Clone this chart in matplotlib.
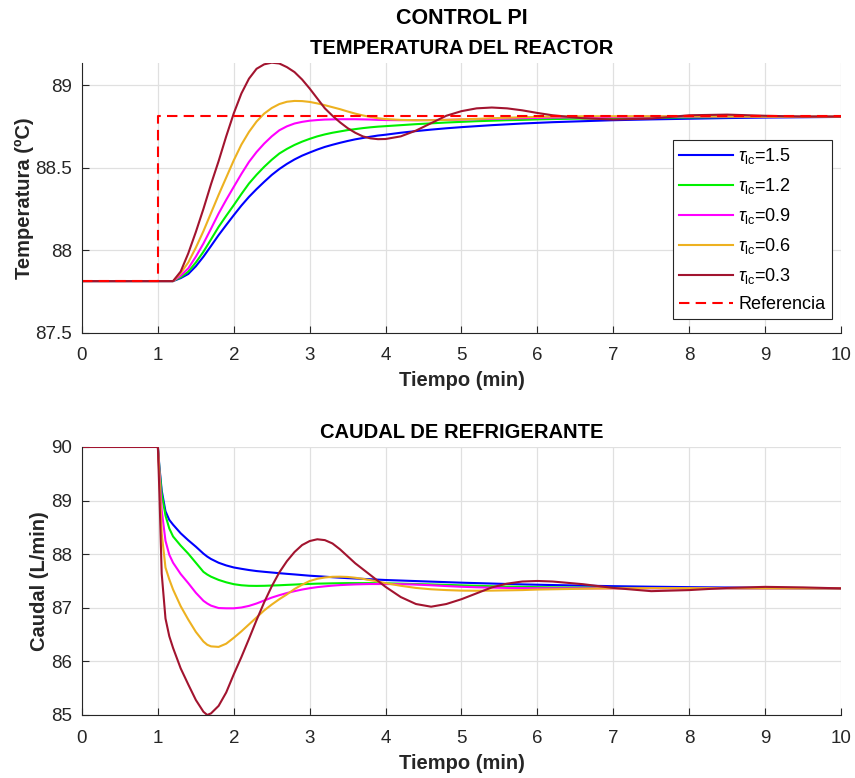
import numpy as np
import matplotlib
matplotlib.use("Agg")
import matplotlib.pyplot as plt

plt.rcParams['font.family'] = ['Liberation Sans', 'DejaVu Sans']
plt.rcParams['mathtext.fontset'] = 'custom'
plt.rcParams['mathtext.rm'] = 'Liberation Sans'
plt.rcParams['mathtext.it'] = 'Liberation Sans:italic'

# valores
tau_labels = ['1.5', '1.2', '0.9', '0.6', '0.3']
colores = ['#0000ff', '#00f000', '#ff00ff', '#edb120', '#a2142f']

# ---- temperatura del reactor ----
t_temp = [0, 1.2, 1.3, 1.4, 1.5, 1.6, 1.7, 1.8, 1.9, 2.0, 2.1, 2.2, 2.3, 2.4, 2.5,
          2.6, 2.7, 2.8, 2.9, 3.0, 3.1, 3.2, 3.3, 3.4, 3.5, 3.6, 3.7, 3.8, 3.9, 4.0,
          4.2, 4.4, 4.6, 4.8, 5.0, 5.2, 5.4, 5.6, 5.8, 6.0, 6.2,
          6.6, 7.0, 7.5, 8.0, 8.5, 9.0, 9.5, 10]

T_15 = [87.812, 87.812, 87.83, 87.855, 87.902, 87.96, 88.025, 88.091, 88.152, 88.212, 88.27,
        88.323, 88.37, 88.414, 88.456, 88.492, 88.523, 88.55, 88.573, 88.592, 88.61, 88.626,
        88.639, 88.651, 88.662, 88.672, 88.68, 88.688, 88.695, 88.70,
        88.712, 88.722, 88.731, 88.739, 88.746, 88.752, 88.758, 88.763, 88.768, 88.772, 88.776,
        88.782, 88.788, 88.793, 88.797, 88.801, 88.804, 88.806, 88.808]
T_12 = [87.812, 87.812, 87.835, 87.869, 87.925, 87.99, 88.065, 88.141, 88.208, 88.273, 88.34,
        88.404, 88.457, 88.505, 88.548, 88.586, 88.614, 88.638, 88.658, 88.675, 88.69, 88.702,
        88.712, 88.72, 88.728, 88.734, 88.74, 88.745, 88.749, 88.752,
        88.758, 88.764, 88.769, 88.774, 88.778, 88.782, 88.785, 88.788, 88.79, 88.793, 88.795,
        88.798, 88.80, 88.803, 88.805, 88.807, 88.808, 88.809, 88.81]
T_09 = [87.812, 87.812, 87.845, 87.889, 87.96, 88.04, 88.13, 88.222, 88.305, 88.384, 88.462,
        88.535, 88.595, 88.646, 88.69, 88.727, 88.751, 88.768, 88.778, 88.785, 88.789, 88.792,
        88.793, 88.794, 88.794, 88.794, 88.793, 88.792, 88.79, 88.789,
        88.788, 88.788, 88.789, 88.79, 88.792, 88.794, 88.796, 88.798, 88.80, 88.802, 88.804,
        88.806, 88.808, 88.81, 88.81, 88.81, 88.81, 88.81, 88.81]
T_06 = [87.812, 87.812, 87.86, 87.925, 88.015, 88.115, 88.225, 88.335, 88.44, 88.545, 88.64,
        88.717, 88.78, 88.828, 88.862, 88.886, 88.90, 88.905, 88.904, 88.899, 88.89, 88.879,
        88.867, 88.855, 88.841, 88.828, 88.817, 88.808, 88.80, 88.795,
        88.79, 88.788, 88.788, 88.79, 88.793, 88.796, 88.80, 88.803, 88.806, 88.808, 88.81,
        88.812, 88.812, 88.812, 88.812, 88.811, 88.81, 88.81, 88.81]
T_03 = [87.812, 87.812, 87.87, 87.98, 88.11, 88.25, 88.40, 88.54, 88.69, 88.83, 88.95,
        89.04, 89.10, 89.127, 89.137, 89.132, 89.11, 89.08, 89.035, 88.98, 88.92, 88.86,
        88.815, 88.775, 88.74, 88.712, 88.69, 88.678, 88.673, 88.674,
        88.69, 88.725, 88.77, 88.815, 88.843, 88.86, 88.865, 88.86, 88.848, 88.832, 88.818,
        88.80, 88.792, 88.798, 88.818, 88.822, 88.815, 88.81, 88.81]

t_ref = [0, 1, 1, 10]
T_ref = [87.812, 87.812, 88.812, 88.812]

# ---- caudal de refrigerante ----
t_caudal = [0, 1.0, 1.02, 1.05, 1.1, 1.15,
            1.2, 1.3, 1.4, 1.5, 1.6, 1.65, 1.7, 1.8, 1.9, 2.0, 2.1, 2.2, 2.3, 2.4, 2.5,
            2.6, 2.7, 2.8, 2.9, 3.0, 3.1, 3.2, 3.3, 3.4, 3.5, 3.6, 3.7, 3.8, 3.9, 4.0,
            4.2, 4.4, 4.6, 4.8, 5.0, 5.2, 5.4, 5.6, 5.8, 6.0, 6.2,
            6.6, 7.0, 7.5, 8.0, 8.5, 9.0, 9.5, 10]

F_15 = [90.0, 90.0, 89.63, 89.19, 88.80, 88.64,
        88.55, 88.39, 88.26, 88.14, 88.01, 87.955, 87.91, 87.84, 87.79, 87.752, 87.727,
        87.704, 87.685, 87.671, 87.658, 87.645, 87.633, 87.622, 87.61, 87.598, 87.589,
        87.58, 87.57, 87.561, 87.553, 87.546, 87.539, 87.532, 87.525, 87.518,
        87.508, 87.498, 87.488, 87.478, 87.468, 87.46, 87.452, 87.444, 87.436, 87.43, 87.424,
        87.413, 87.403, 87.393, 87.385, 87.378, 87.372, 87.367, 87.363]
F_12 = [90.0, 90.0, 89.60, 89.13, 88.72, 88.48,
        88.33, 88.16, 88.01, 87.84, 87.67, 87.62, 87.58, 87.52, 87.475, 87.44, 87.42,
        87.41, 87.408, 87.41, 87.415, 87.42, 87.427, 87.433, 87.44, 87.445, 87.45,
        87.453, 87.456, 87.458, 87.46, 87.46, 87.46, 87.46, 87.458, 87.456,
        87.45, 87.443, 87.435, 87.427, 87.418, 87.41, 87.402, 87.395, 87.39, 87.385, 87.381,
        87.375, 87.371, 87.368, 87.366, 87.365, 87.364, 87.363, 87.362]
F_09 = [90.0, 90.0, 89.53, 88.82, 88.25, 87.99,
        87.84, 87.63, 87.46, 87.28, 87.13, 87.08, 87.04, 86.995, 86.99, 86.99, 87.005,
        87.035, 87.08, 87.135, 87.19, 87.235, 87.275, 87.31, 87.34, 87.365, 87.385,
        87.40, 87.413, 87.423, 87.43, 87.436, 87.44, 87.443, 87.443, 87.443,
        87.44, 87.433, 87.42, 87.405, 87.392, 87.382, 87.375, 87.37, 87.367, 87.365, 87.364,
        87.363, 87.363, 87.363, 87.362, 87.362, 87.362, 87.362, 87.362]
F_06 = [90.0, 90.0, 89.44, 88.39, 87.75, 87.53,
        87.34, 87.03, 86.78, 86.55, 86.37, 86.31, 86.28, 86.27, 86.33, 86.44, 86.56,
        86.69, 86.82, 86.95, 87.06, 87.16, 87.25, 87.35, 87.43, 87.50, 87.54,
        87.565, 87.578, 87.58, 87.575, 87.56, 87.54, 87.515, 87.49, 87.46,
        87.41, 87.37, 87.345, 87.33, 87.32, 87.318, 87.32, 87.325, 87.33, 87.34, 87.345,
        87.355, 87.362, 87.366, 87.366, 87.364, 87.363, 87.362, 87.362]
F_03 = [90.0, 90.0, 89.13, 87.64, 86.80, 86.47,
        86.25, 85.87, 85.57, 85.28, 85.06, 85.0, 85.03, 85.17, 85.42, 85.76, 86.08,
        86.42, 86.77, 87.10, 87.40, 87.66, 87.87, 88.04, 88.17, 88.245, 88.278,
        88.262, 88.20, 88.09, 87.96, 87.83, 87.72, 87.61, 87.50, 87.39,
        87.20, 87.07, 87.02, 87.07, 87.16, 87.27, 87.38, 87.45, 87.49, 87.50, 87.49,
        87.44, 87.37, 87.31, 87.33, 87.37, 87.39, 87.38, 87.362]

temp_series = [T_15, T_12, T_09, T_06, T_03]
caudal_series = [F_15, F_12, F_09, F_06, F_03]

x_ticks = [0, 1, 2, 3, 4, 5, 6, 7, 8, 9, 10]
temp_ticks = [87.5, 88, 88.5, 89]
temp_ticklabels = ['87.5', '88', '88.5', '89']
caudal_ticks = [85, 86, 87, 88, 89, 90]

gris = '#262626'

fig = plt.figure(figsize=(8.55, 7.78), dpi=100)
ax1 = fig.add_axes([0.0959, 0.5726, 0.8877, 0.3464])
ax2 = fig.add_axes([0.0959, 0.0810, 0.8877, 0.3445])


def estilo(ax):
    ax.set_xlim(0, 10)
    ax.set_xticks(x_ticks)
    ax.grid(True, color='#e0e0e0', linewidth=0.9)
    ax.set_axisbelow(True)
    for s in ['top', 'right']:
        ax.spines[s].set_visible(False)
    for s in ['left', 'bottom']:
        ax.spines[s].set_color(gris)
        ax.spines[s].set_linewidth(0.8)
    ax.tick_params(direction='in', length=5, width=0.8, colors=gris,
                   labelsize=13.5, pad=7)
    ax.tick_params(axis='x', pad=10.5)
    ax.set_xlabel('Tiempo (min)', fontsize=14.5, fontweight='bold', color=gris, labelpad=5)


for vals, col, lab in zip(temp_series, colores, tau_labels):
    ax1.plot(t_temp, vals, color=col, linewidth=1.5,
             label=r'$\tau_{\mathrm{lc}}$=' + lab)
ax1.plot(t_ref, T_ref, color='#ff0000', linewidth=1.5, dashes=(5, 3), label='Referencia')
estilo(ax1)
ax1.set_ylim(87.5, 89.135)
ax1.set_yticks(temp_ticks)
ax1.set_yticklabels(temp_ticklabels)
ax1.set_ylabel('Temperatura (ºC)', fontsize=14.5, fontweight='bold', color=gris, labelpad=1)
ax1.set_title('TEMPERATURA DEL REACTOR', fontsize=14.5, fontweight='bold', pad=6.5)
leg = ax1.legend(loc='upper right', bbox_to_anchor=(0.988, 0.714), borderaxespad=0,
                 fontsize=13, fancybox=False, framealpha=1, edgecolor=gris,
                 handlelength=3.0, handletextpad=0.3, labelspacing=0.55,
                 borderpad=0.35)
leg.get_frame().set_linewidth(0.8)

for vals, col in zip(caudal_series, colores):
    ax2.plot(t_caudal, vals, color=col, linewidth=1.5)
estilo(ax2)
ax2.set_ylim(85, 90)
ax2.set_yticks(caudal_ticks)
ax2.set_ylabel('Caudal (L/min)', fontsize=14.5, fontweight='bold', color=gris, labelpad=1.5)
ax2.set_title('CAUDAL DE REFRIGERANTE', fontsize=14.5, fontweight='bold', pad=6.5)

fig.text(0.54, 1 - 18 / 778, 'CONTROL PI', ha='center', va='center',
         fontsize=15.5, fontweight='bold')

fig.savefig('out.png', dpi=100)
